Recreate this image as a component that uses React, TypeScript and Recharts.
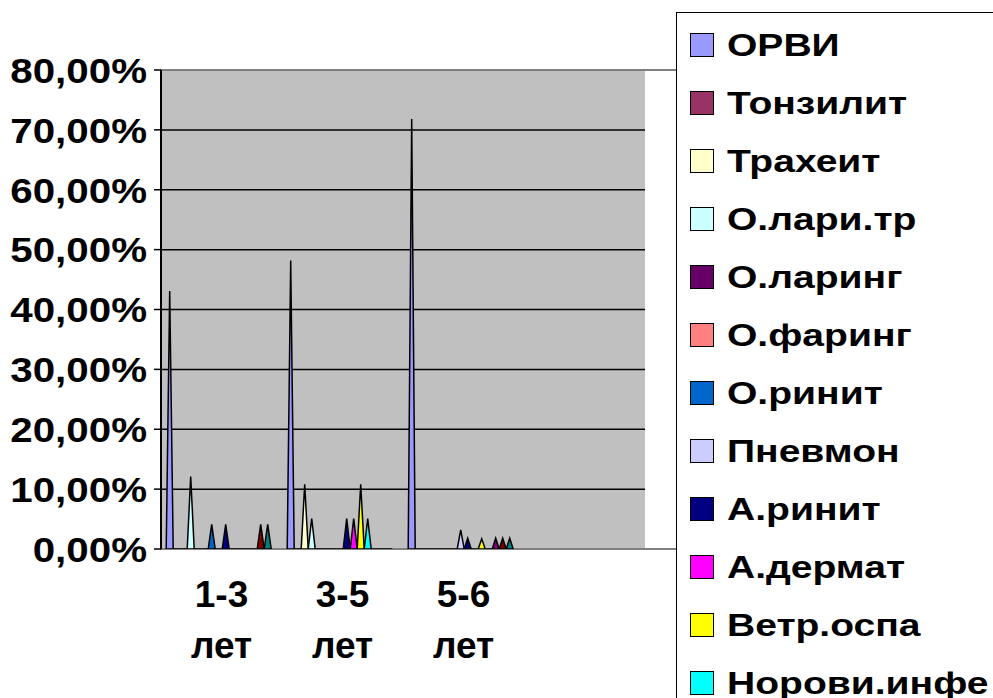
import React from "react";
import {
  BarChart,
  Bar,
  XAxis,
  YAxis,
  CartesianGrid,
  ReferenceArea
} from "recharts";

// age groups (the 4th slot is empty in the original sheet)
const categories = ["1-3 лет", "3-5 лет", "5-6 лет", ""];

// share of cases, %
const orvi = [43.1, 48.2, 71.8, null];
const tonzilit = [0, 0, 0, null];
const traheit = [0, 10.8, 0, null];
const olaritr = [12.1, 5.1, 0, null];
const olaring = [0, 0, 0, null];
const ofaring = [0, 0, 0, null];
const orinit = [4.1, 0, 0, null];
const pnevmon = [0, 0, 3.2, null];
const arinit = [4.1, 5.1, 1.8, null];
const adermat = [0, 5.1, 0, null];
const vetrospa = [0, 10.8, 1.7, null];
const norovi = [0, 5.1, 0, null];
const ser13 = [0, 0, 1.8, null];
const ser14 = [4.1, 0, 1.8, null];
const ser15 = [4.1, 0, 1.8, null];

const seriesNames = [
  "ОРВИ",
  "Тонзилит",
  "Трахеит",
  "О.лари.тр",
  "О.ларинг",
  "О.фаринг",
  "О.ринит",
  "Пневмон",
  "А.ринит",
  "А.дермат",
  "Ветр.оспа",
  "Норови.инфе",
  "Серия13",
  "Серия14",
  "Серия15"
];

const seriesColors = [
  "#9999FF",
  "#993366",
  "#FFFFCC",
  "#CCFFFF",
  "#660066",
  "#FF8080",
  "#0066CC",
  "#CCCCFF",
  "#000080",
  "#FF00FF",
  "#FFFF00",
  "#00FFFF",
  "#800080",
  "#800000",
  "#008080"
];

const seriesValues = [
  orvi, tonzilit, traheit, olaritr, olaring, ofaring, orinit, pnevmon,
  arinit, adermat, vetrospa, norovi, ser13, ser14, ser15
];

const yTicks = [0, 10, 20, 30, 40, 50, 60, 70, 80];

const data = categories.map((cat, i) => {
  const row: any = { cat };
  seriesValues.forEach((vals, s) => {
    row["s" + s] = vals[i];
  });
  return row;
});

const FONT = "'Liberation Sans', Arial, sans-serif";

// pyramid-like spike, as in the original 2D cone/pyramid chart
const Spike = (props: any) => {
  const { x, y, width, height, fill } = props;
  if (x == null || y == null) return null;
  const base = y + height;
  const d = `M${x},${base} L${x + width / 2},${y} L${x + width},${base} Z`;
  return <path d={d} fill={fill} stroke="#000" strokeWidth={1.5} strokeLinejoin="miter" />;
};

const CatTick = (props: any) => {
  const { x, y, payload } = props;
  if (!payload.value) return null;
  const parts = String(payload.value).split(" ");
  return (
    <g>
      <text x={x} y={y + 58} textAnchor="middle" fontFamily={FONT} fontWeight="bold" fontSize={37} fill="#000">
        {parts[0]}
      </text>
      <text x={x} y={y + 109} textAnchor="middle" fontFamily={FONT} fontWeight="bold" fontSize={37} fill="#000">
        {parts[1]}
      </text>
    </g>
  );
};

const fmtPct = (v: number) => v.toFixed(2).replace(".", ",") + "%";

// y labels are a bit wider than plain Arial in the source
const PctTick = (props: any) => {
  const { x, y, payload } = props;
  return (
    <text
      transform={`translate(${x},${y}) scale(1.12,1)`}
      textAnchor="end"
      dy="0.355em"
      fontFamily={FONT}
      fontWeight="bold"
      fontSize={36}
      fill="#000"
    >
      {fmtPct(payload.value)}
    </text>
  );
};

export default function App() {
  return (
    <div
      style={{
        position: "absolute",
        left: 0,
        top: 0,
        width: 993,
        height: 698,
        overflow: "hidden",
        background: "#fff"
      }}
    >
      <BarChart
        width={993}
        height={698}
        data={data}
        margin={{ top: 70, right: 348, bottom: 0, left: 0 }}
        barCategoryGap="4.3%"
        barGap={0}
      >
        <CartesianGrid
          xAxisId="cat"
          vertical={false}
          fill="#C0C0C0"
          fillOpacity={1}
          stroke="#000"
          strokeWidth={1.5}
        />
        <ReferenceArea
          xAxisId="edge"
          x1={0}
          x2={4}
          y1={0}
          y2={80}
          fill="none"
          stroke="#808080"
          strokeWidth={2}
          ifOverflow="visible"
        />
        <XAxis
          xAxisId="edge"
          type="number"
          domain={[0, 4]}
          ticks={[0, 1, 2, 3, 4]}
          allowDataOverflow
          height={0}
          tick={false}
          tickSize={7}
          tickLine={{ stroke: "#000", strokeWidth: 2 }}
          axisLine={{ stroke: "#000", strokeWidth: 2 }}
        />
        <XAxis
          xAxisId="cat"
          dataKey="cat"
          height={149}
          axisLine={false}
          tickLine={false}
          tickSize={0}
          tickMargin={0}
          interval={0}
          tick={<CatTick />}
        />
        <YAxis
          width={161}
          domain={[0, 80]}
          ticks={yTicks}
          allowDataOverflow
          tickSize={7}
          tickMargin={7}
          tickLine={{ stroke: "#000", strokeWidth: 1.5 }}
          axisLine={{ stroke: "#000", strokeWidth: 2 }}
          tick={<PctTick />}
        />
        {seriesNames.map((name, s) => (
          <Bar
            key={name}
            xAxisId="cat"
            dataKey={"s" + s}
            name={name}
            fill={seriesColors[s]}
            shape={<Spike />}
            isAnimationActive={false}
          />
        ))}
      </BarChart>

      {/* legend box runs off the picture edge like in the source; only the first 12 rows fit */}
      <div
        style={{
          position: "absolute",
          left: 676,
          top: 12,
          width: 340,
          height: 760,
          border: "1.5px solid #000",
          boxSizing: "border-box",
          background: "#fff"
        }}
      >
        {seriesNames.slice(0, 12).map((name, s) => (
          <div
            key={name}
            style={{
              position: "absolute",
              left: 13,
              top: 8 + s * 58,
              height: 48,
              display: "flex",
              alignItems: "center",
              whiteSpace: "nowrap"
            }}
          >
            <div
              style={{
                width: 24,
                height: 24,
                flex: "none",
                boxSizing: "border-box",
                border: "1.5px solid #000",
                background: seriesColors[s],
                marginRight: 13
              }}
            />
            <span
              style={{
                display: "inline-block",
                fontFamily: FONT,
                fontWeight: "bold",
                fontSize: 32,
                color: "#000",
                lineHeight: "48px",
                transform: "scaleX(1.22)",
                transformOrigin: "left center"
              }}
            >
              {name}
            </span>
          </div>
        ))}
      </div>
    </div>
  );
}
